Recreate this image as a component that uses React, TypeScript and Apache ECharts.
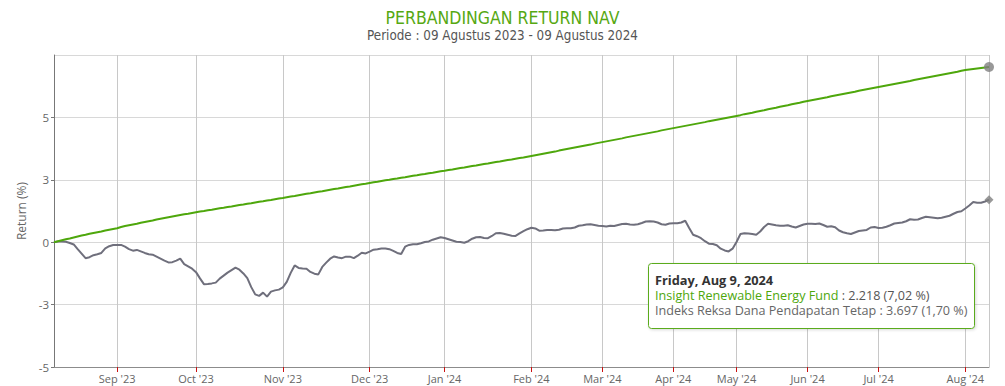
import React, { useEffect, useRef } from "react";
import * as echarts from "echarts";

const START_DATE = "2023-08-09";
const END_DATE = "2024-08-09";
const HOLIDAYS = [
  "2023-08-17", "2023-09-28", "2023-12-25", "2023-12-26", "2024-01-01",
  "2024-02-08", "2024-02-09", "2024-02-14", "2024-03-11", "2024-03-12",
  "2024-03-29", "2024-04-08", "2024-04-09", "2024-04-10", "2024-04-11",
  "2024-04-12", "2024-04-15", "2024-05-01", "2024-05-09", "2024-05-10",
  "2024-05-23", "2024-05-24", "2024-06-17", "2024-06-18", "2024-07-17",
];
const MONTHS = ["Jan", "Feb", "Mar", "Apr", "May", "Jun", "Jul", "Aug", "Sep", "Oct", "Nov", "Dec"];

const FUND_NAME = "Insight Renewable Energy Fund";
const INDEX_NAME = "Indeks Reksa Dana Pendapatan Tetap";
const FUND_NAV = "2.218";
const INDEX_NAV = "3.697";
const TOOLTIP_DATE = "Friday, Aug 9, 2024";

const FUND_RETURN = [
  0.00, 0.04, 0.08, 0.12, 0.15, 0.19, 0.23, 0.27, 0.30, 0.34,
  0.37, 0.40, 0.43, 0.47, 0.50, 0.53, 0.56, 0.61, 0.65, 0.68,
  0.71, 0.74, 0.78, 0.81, 0.84, 0.87, 0.91, 0.94, 0.97, 1.00,
  1.03, 1.06, 1.09, 1.12, 1.14, 1.17, 1.20, 1.23, 1.25, 1.28,
  1.30, 1.33, 1.36, 1.38, 1.41, 1.43, 1.46, 1.49, 1.51, 1.54,
  1.56, 1.59, 1.62, 1.64, 1.67, 1.69, 1.72, 1.75, 1.77, 1.80,
  1.83, 1.85, 1.88, 1.91, 1.94, 1.96, 1.99, 2.02, 2.04, 2.07,
  2.10, 2.13, 2.15, 2.18, 2.21, 2.23, 2.26, 2.29, 2.32, 2.34,
  2.37, 2.40, 2.42, 2.45, 2.48, 2.50, 2.53, 2.55, 2.58, 2.60,
  2.63, 2.66, 2.68, 2.71, 2.73, 2.76, 2.78, 2.81, 2.84, 2.86,
  2.89, 2.91, 2.94, 2.97, 2.99, 3.02, 3.05, 3.07, 3.10, 3.13,
  3.15, 3.18, 3.21, 3.23, 3.26, 3.29, 3.31, 3.34, 3.37, 3.39,
  3.42, 3.45, 3.48, 3.51, 3.54, 3.57, 3.60, 3.63, 3.67, 3.70,
  3.73, 3.76, 3.79, 3.82, 3.85, 3.88, 3.91, 3.95, 3.98, 4.01,
  4.04, 4.07, 4.10, 4.13, 4.16, 4.20, 4.23, 4.26, 4.29, 4.32,
  4.35, 4.38, 4.41, 4.44, 4.48, 4.51, 4.54, 4.57, 4.60, 4.63,
  4.66, 4.69, 4.72, 4.75, 4.78, 4.81, 4.85, 4.88, 4.91, 4.94,
  4.97, 5.00, 5.03, 5.06, 5.09, 5.13, 5.16, 5.19, 5.23, 5.26,
  5.29, 5.33, 5.36, 5.39, 5.43, 5.46, 5.49, 5.53, 5.56, 5.59,
  5.63, 5.66, 5.69, 5.72, 5.75, 5.78, 5.81, 5.85, 5.88, 5.91,
  5.94, 5.97, 6.00, 6.03, 6.07, 6.10, 6.13, 6.16, 6.19, 6.22,
  6.25, 6.28, 6.31, 6.34, 6.37, 6.40, 6.43, 6.46, 6.50, 6.53,
  6.56, 6.59, 6.62, 6.65, 6.68, 6.71, 6.74, 6.77, 6.80, 6.83,
  6.87, 6.90, 6.92, 6.94, 6.96, 6.98, 7.00, 7.02,
];

const INDEX_RETURN = [
  0.00, 0.03, 0.03, 0.02, -0.03, -0.09, -0.28, -0.46, -0.64, -0.60,
  -0.52, -0.48, -0.43, -0.25, -0.16, -0.11, -0.11, -0.11, -0.18, -0.28,
  -0.34, -0.31, -0.37, -0.43, -0.48, -0.50, -0.58, -0.66, -0.74, -0.81,
  -0.80, -0.74, -0.66, -0.88, -0.97, -1.06, -1.20, -1.45, -1.68, -1.67,
  -1.65, -1.62, -1.46, -1.34, -1.22, -1.12, -1.02, -1.10, -1.25, -1.44,
  -1.80, -2.09, -2.15, -2.02, -2.18, -1.98, -1.93, -1.90, -1.81, -1.59,
  -1.23, -0.93, -1.03, -1.05, -1.06, -1.19, -1.26, -1.29, -0.99, -0.82,
  -0.66, -0.57, -0.61, -0.64, -0.58, -0.58, -0.64, -0.54, -0.42, -0.45,
  -0.38, -0.30, -0.28, -0.25, -0.25, -0.28, -0.35, -0.43, -0.47, -0.18,
  -0.11, -0.08, -0.08, -0.04, 0.01, 0.03, 0.10, 0.15, 0.20, 0.17,
  0.12, 0.07, 0.02, 0.01, -0.02, 0.04, 0.14, 0.20, 0.21, 0.17,
  0.16, 0.25, 0.36, 0.37, 0.34, 0.30, 0.26, 0.25, 0.35, 0.44,
  0.52, 0.58, 0.55, 0.46, 0.47, 0.49, 0.49, 0.48, 0.50, 0.55,
  0.56, 0.56, 0.59, 0.66, 0.68, 0.71, 0.72, 0.69, 0.66, 0.65,
  0.63, 0.66, 0.65, 0.69, 0.73, 0.74, 0.71, 0.70, 0.72, 0.77,
  0.83, 0.84, 0.83, 0.79, 0.72, 0.70, 0.75, 0.76, 0.76, 0.79,
  0.86, 0.57, 0.30, 0.24, 0.16, 0.04, -0.06, -0.07, -0.12, -0.26,
  -0.33, -0.37, -0.26, 0.01, 0.33, 0.36, 0.35, 0.33, 0.30, 0.43,
  0.61, 0.74, 0.71, 0.68, 0.66, 0.66, 0.68, 0.63, 0.59, 0.65,
  0.71, 0.74, 0.74, 0.73, 0.75, 0.69, 0.62, 0.64, 0.60, 0.47,
  0.40, 0.36, 0.33, 0.39, 0.45, 0.47, 0.49, 0.59, 0.61, 0.57,
  0.58, 0.62, 0.68, 0.75, 0.77, 0.79, 0.84, 0.92, 0.90, 0.91,
  0.97, 1.02, 1.00, 0.98, 0.96, 0.98, 1.02, 1.06, 1.14, 1.21,
  1.24, 1.35, 1.47, 1.61, 1.58, 1.58, 1.63, 1.70,
];

const Y_MIN = -5;
const Y_MAX = 7.5;
const Y_STEP = 2.5;

function tradingDays(): string[] {
  const out: string[] = [];
  const d = new Date(START_DATE + "T00:00:00Z");
  const end = new Date(END_DATE + "T00:00:00Z");
  while (d <= end) {
    const s = d.toISOString().slice(0, 10);
    const wd = d.getUTCDay();
    if (wd !== 0 && wd !== 6 && !HOLIDAYS.includes(s)) out.push(s);
    d.setUTCDate(d.getUTCDate() + 1);
  }
  return out;
}

const FONT = "'Open Sans', 'DejaVu Sans', sans-serif";
const COND = "'DejaVu Sans Condensed', 'DejaVu Sans', sans-serif";

export default function App() {
  const ref = useRef<HTMLDivElement>(null);
  useEffect(() => {
    document.body.style.margin = "0";
    if (!ref.current) return;
    const chart = echarts.init(ref.current, null, { renderer: "svg" });
    const days = tradingDays();
    const n = days.length;
    const monthStart = new Set<number>();
    for (let i = 1; i < n; i++) {
      if (days[i].slice(5, 7) !== days[i - 1].slice(5, 7)) monthStart.add(i);
    }
    const fmtLabel = (s: string) => `${MONTHS[parseInt(s.slice(5, 7), 10) - 1]} '${s.slice(2, 4)}`;
    const last = n - 1;
    const pct = (v: number) => v.toFixed(2).replace(".", ",");

    chart.setOption({
      animation: false,
      title: {
        text: "PERBANDINGAN RETURN NAV",
        subtext: "Periode : 09 Agustus 2023 - 09 Agustus 2024",
        left: "center",
        top: 4,
        itemGap: 2,
        textStyle: { fontFamily: COND, fontSize: 17.5, fontWeight: "normal", color: "#56a812" },
        subtextStyle: { fontFamily: COND, fontSize: 13.3, color: "#555555" },
      },
      grid: { left: 54, right: 16, top: 55, bottom: 19, containLabel: false },
      xAxis: {
        type: "category",
        data: days,
        boundaryGap: false,
        axisLine: { onZero: false, lineStyle: { color: "#8c8c8c", width: 1 } },
        axisTick: { show: true, length: 5, interval: (i: number) => monthStart.has(i), lineStyle: { color: "#cc1111" } },
        axisLabel: {
          interval: (i: number) => monthStart.has(i),
          formatter: (v: string) => fmtLabel(v),
          color: "#666666",
          fontFamily: FONT,
          fontSize: 11,
          margin: 6,
        },
        splitLine: {
          show: true,
          interval: (i: number) => monthStart.has(i) || i === last,
          lineStyle: { color: "#c8c8c8", width: 1 },
        },
      },
      yAxis: {
        type: "value",
        min: Y_MIN,
        max: Y_MAX,
        interval: Y_STEP,
        name: "Return (%)",
        nameLocation: "middle",
        nameGap: 25,
        nameTextStyle: { color: "#666666", fontFamily: FONT, fontSize: 12 },
        axisLine: { show: true, lineStyle: { color: "#777777" } },
        axisTick: { show: true, length: 3, lineStyle: { color: "#777777" } },
        axisLabel: {
          color: "#666666",
          fontFamily: FONT,
          fontSize: 11.5,
          margin: 5,
          showMaxLabel: false,
          formatter: (v: number) => (v === Y_MAX ? "" : String(Math.sign(v) * Math.round(Math.abs(v)))),
        },
        splitLine: { show: true, lineStyle: { color: "#d8d8d8", width: 1 } },
      },
      series: [
        {
          name: FUND_NAME,
          type: "line",
          data: FUND_RETURN,
          showSymbol: false,
          lineStyle: { color: "#4ea70c", width: 2 },
          itemStyle: { color: "#4ea70c" },
          z: 3,
        },
        {
          name: INDEX_NAME,
          type: "line",
          data: INDEX_RETURN,
          showSymbol: false,
          lineStyle: { color: "#6f6f7c", width: 2 },
          itemStyle: { color: "#6f6f7c" },
          z: 2,
        },
        {
          type: "scatter",
          data: [[last, FUND_RETURN[last]]],
          symbol: "circle",
          symbolSize: 10,
          itemStyle: { color: "#808080" },
          z: 5,
        },
        {
          type: "scatter",
          data: [[last, INDEX_RETURN[last]]],
          symbol: "diamond",
          symbolSize: 9,
          itemStyle: { color: "#808080" },
          z: 5,
        },
      ],
      graphic: [
        {
          type: "rect",
          shape: { x: 648.5, y: 263.5, width: 326, height: 65, r: 3 },
          style: { fill: "#ffffff", stroke: "#5aab1e", lineWidth: 1, shadowBlur: 3, shadowColor: "rgba(0,0,0,0.15)", shadowOffsetX: 1, shadowOffsetY: 1 },
          z: 100,
        },
        {
          type: "text",
          x: 655,
          y: 273,
          style: { text: TOOLTIP_DATE, fontFamily: FONT, fontSize: 12.8, fontWeight: "bold", fill: "#333333" },
          z: 101,
        },
        {
          type: "text",
          x: 655,
          y: 289,
          style: {
            text: `{a|${FUND_NAME}}{b| : ${FUND_NAV} (${pct(FUND_RETURN[last])} %)}`,
            rich: {
              a: { fontFamily: FONT, fontSize: 12.6, fill: "#4ea70c", color: "#4ea70c" },
              b: { fontFamily: FONT, fontSize: 12.6, fill: "#555555", color: "#555555" },
            },
          },
          z: 101,
        },
        {
          type: "text",
          x: 655,
          y: 304,
          style: { text: `${INDEX_NAME} : ${INDEX_NAV} (${pct(INDEX_RETURN[last])} %)`, fontFamily: FONT, fontSize: 12.6, fill: "#666666" },
          z: 101,
        },
      ],
    });
    return () => chart.dispose();
  }, []);
  return <div ref={ref} style={{ width: 1005, height: 386 }} />;
}
